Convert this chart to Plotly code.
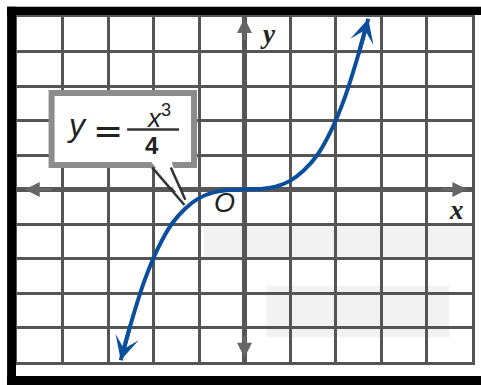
import plotly.graph_objects as go

# Curve points (y = x^3/4)
curve_x = [-2.72, -2.5, -2.2, -1.9, -1.6, -1.3, -1.0, -0.7, -0.4, 0.0,
           0.4, 0.7, 1.0, 1.3, 1.6, 1.9, 2.2, 2.5, 2.72]
curve_y = [-4.95, -3.9, -2.65, -1.7, -1.0, -0.55, -0.25, -0.09, -0.02, 0.0,
           0.02, 0.09, 0.25, 0.55, 1.0, 1.7, 2.65, 3.9, 4.95]

x_range = [-5, 5]
y_range = [-5, 5]

GRID = "#555555"
BLUE = "#0b4f9c"
TXT = "#222222"

fig = go.Figure()
fig.add_trace(go.Scatter(x=curve_x, y=curve_y, mode="lines",
                         line=dict(color=BLUE, width=4, shape="spline"),
                         hoverinfo="skip", showlegend=False))

ann = []
# curve arrowheads
for i_tail, i_head in [(1, 0), (-2, -1)]:
    ann.append(dict(x=curve_x[i_head], y=curve_y[i_head], ax=curve_x[i_tail], ay=curve_y[i_tail],
                    xref="x", yref="y", axref="x", ayref="y", text="", showarrow=True,
                    arrowhead=3, arrowwidth=4, arrowsize=1.0, arrowcolor=BLUE))
# axis arrowheads
for (hx, hy, tx, ty) in [(-4.83, 0, -4.2, 0), (4.9, 0, 4.3, 0), (0, 4.97, 0, 4.3), (0, -4.88, 0, -4.2)]:
    ann.append(dict(x=hx, y=hy, ax=tx, ay=ty, xref="x", yref="y", axref="x", ayref="y",
                    text="", showarrow=True, arrowhead=2, arrowwidth=3, arrowsize=1.0,
                    arrowcolor="#666666"))

serif_it = dict(family="Liberation Serif", size=27, color=TXT)
ann += [
    dict(x=0.52, y=4.5, text="<b><i>y</i></b>", showarrow=False, font=serif_it),
    dict(x=4.65, y=-0.58, text="<b><i>x</i></b>", showarrow=False, font=serif_it),
    dict(x=-0.44, y=-0.39, text="<i>O</i>", showarrow=False,
         font=dict(family="Liberation Sans", size=27, color=TXT)),
    # label in box
    dict(x=-3.69, y=1.87, text="<i>y</i>", showarrow=False,
         font=dict(family="Liberation Sans", size=32, color=TXT)),
    dict(x=-2.99, y=1.72, text="=", showarrow=False,
         font=dict(family="DejaVu Sans", size=36, color=TXT)),
    dict(x=-1.90, y=2.13, text="<i>x</i><sup>3</sup>", showarrow=False,
         font=dict(family="Liberation Sans", size=26, color=TXT)),
    dict(x=-2.04, y=1.29, text="<b>4</b>", showarrow=False,
         font=dict(family="Liberation Sans", size=24, color=TXT)),
]

shapes = []
# watermark-like faint areas
shapes.append(dict(type="rect", xref="x", yref="y", x0=-0.9, x1=5, y0=-1.96, y1=-0.98,
                   fillcolor="#f2f2f2", line_width=0, layer="below"))
shapes.append(dict(type="rect", xref="x", yref="y", x0=0.48, x1=4.5, y0=-4.28, y1=-2.8,
                   fillcolor="#f2f2f2", line_width=0, layer="below"))
# callout box
shapes.append(dict(type="rect", xref="x", yref="y", x0=-4.24, x1=-1.11, y0=0.71, y1=2.80,
                   fillcolor="white", line=dict(color="#8c8c8c", width=6), layer="above"))
# wedge
shapes.append(dict(type="path", xref="x", yref="y",
                   path="M -2.05 0.80 L -1.60 0.80 L -1.30 -0.39 Z",
                   fillcolor="white", line_width=0, layer="above"))
shapes.append(dict(type="line", xref="x", yref="y", x0=-2.03, y0=0.64, x1=-1.32, y1=-0.45,
                   line=dict(color="#333333", width=2.5), layer="above"))
shapes.append(dict(type="line", xref="x", yref="y", x0=-1.62, y0=0.64, x1=-1.30, y1=-0.30,
                   line=dict(color="#333333", width=2.5), layer="above"))
# fraction bar
shapes.append(dict(type="line", xref="x", yref="y", x0=-2.58, x1=-1.44, y0=1.74, y1=1.74,
                   line=dict(color="#333333", width=2.5), layer="above"))
# black frame (paper coords)
for (x0, x1, y0, y1) in [(-0.0218, 1.02, 1.0058, 1.03), (-0.0218, -0.0022, -0.07, 1.03),
                         (-0.0218, 1.02, -0.07, -0.0406)]:
    shapes.append(dict(type="rect", xref="paper", yref="paper", x0=x0, x1=x1, y0=y0, y1=y1,
                       fillcolor="black", line_width=0, layer="above"))

axis_common = dict(dtick=1, showgrid=True, gridcolor=GRID, gridwidth=3,
                   zeroline=True, zerolinecolor="#575757", zerolinewidth=5,
                   showticklabels=False, ticks="", showline=True, mirror=True,
                   linecolor=GRID, linewidth=3, fixedrange=True)

fig.update_layout(
    width=481, height=385,
    margin=dict(l=17, r=6, t=17, b=23),
    paper_bgcolor="white", plot_bgcolor="white",
    xaxis=dict(range=x_range, **axis_common),
    yaxis=dict(range=y_range, **axis_common),
    annotations=ann, shapes=shapes, showlegend=False,
)

fig.write_html("out.html", config={"displayModeBar": False},
               post_script="document.body.style.margin='0px';document.body.style.overflow='hidden';")
